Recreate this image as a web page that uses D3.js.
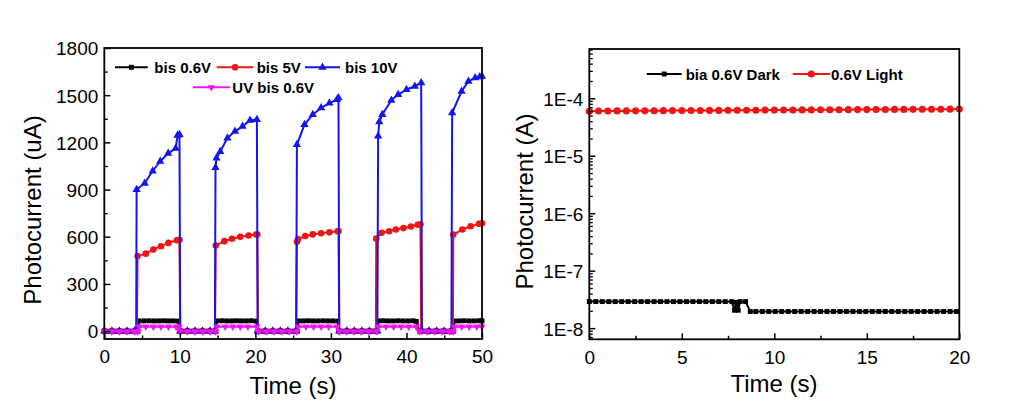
<!DOCTYPE html>
<html><head><meta charset="utf-8">
<script src="https://cdn.jsdelivr.net/npm/d3@7"></script>
<style>
body{margin:0;background:#fff}
svg{display:block}
text{font-family:"Liberation Sans",Arial,sans-serif;fill:#000}
</style>
</head><body>
<svg id="c" width="1034" height="409"></svg>
<script>
// ---------- Left panel: photocurrent (uA) vs time (s) ----------
const bis06Time = [0,0.66,1.32,1.98,2.64,3.3,3.96,4.45,
  4.6,5.25,5.9,6.55,7.2,7.85,8.5,9.15,9.8,
  10.0,10.65,11.3,11.95,12.6,13.25,13.9,14.7,
  14.9,15.55,16.2,16.85,17.5,18.15,18.8,19.45,20.1,
  20.4,21.05,21.7,22.35,23.0,23.65,24.3,24.95,25.55,
  25.7,26.35,27.0,27.65,28.3,28.95,29.6,30.25,30.9,
  31.1,31.75,32.4,33.05,33.7,34.35,35.0,35.65,36.15,
  36.3,36.95,37.6,38.25,38.9,39.55,40.2,40.85,41.3,
  41.75,42.4,43.05,43.7,44.35,45.0,45.65,46.2,
  46.35,47.0,47.65,48.3,48.95,49.6,50];
const bis06Val = [0,0,0,0,0,0,0,0,
  65,65,66,65,65,66,65,65,64,
  0,0,0,0,0,0,0,0,
  65,66,65,65,66,65,65,66,64,
  0,0,0,0,0,0,0,0,0,
  65,65,66,65,65,66,65,65,64,
  0,0,0,0,0,0,0,0,0,
  65,66,65,65,66,65,65,66,62,
  0,0,0,0,0,0,0,0,
  65,65,66,65,65,66,65];

const bis5Time = [0,1,2,3,4,4.32,
  4.4,5.5,6.5,7.5,8.5,9.6,9.95,
  10.05,11,12,13,14,14.65,
  14.75,15.9,16.9,18.0,19.1,20.1,20.25,
  20.35,21.3,22.3,23.3,24.3,25.4,
  25.5,25.65,26.6,27.6,28.7,29.8,30.9,31.0,
  31.1,32.1,33.1,34.1,35.1,35.95,
  36.0,36.7,37.7,38.6,39.6,40.6,41.5,41.85,
  41.95,42.9,43.9,44.9,45.9,46.15,
  46.2,47.4,48.5,49.6,50];
const bis5Val = [0,0,0,0,0,0,
  477,493,519,540,561,578,580,
  0,0,0,0,0,0,
  544,572,587,600,608,614,615,
  0,0,0,0,0,0,
  568,585,605,615,622,628,635,636,
  0,0,0,0,0,0,
  588,625,635,646,655,665,676,680,
  0,0,0,0,0,0,
  614,646,667,682,686];

const bis10Time = [0,1,2,3,4,4.22,
  4.28,5.35,6.4,7.4,8.45,9.45,9.7,9.95,
  10.05,11,12,13,14,14.65,
  14.72,14.85,15.35,16.3,17.3,18.3,19.3,20.2,
  20.3,21.3,22.3,23.3,24.3,25.4,
  25.5,26.5,27.6,28.7,29.8,30.8,31.0,
  31.1,32.1,33.1,34.1,35.1,36.15,
  36.25,36.4,36.8,38.0,38.9,40.0,41.1,41.95,
  42.05,43,44,45,45.95,
  46.05,47.3,48.2,49.1,49.7,50];
const bis10Val = [0,0,0,0,0,0,
  900,940,1018,1080,1130,1162,1245,1250,
  0,0,0,0,0,0,
  1040,1100,1142,1228,1270,1302,1340,1345,
  0,0,0,0,0,0,
  1186,1313,1377,1419,1450,1472,1483,
  0,0,0,0,0,0,
  1240,1330,1377,1468,1504,1536,1557,1578,
  0,0,0,0,0,
  1388,1525,1588,1610,1617,1620];

const uvTime = [0,1,2,3,4,4.45,
  4.6,5.5,6.5,7.5,8.5,9.5,9.9,
  10.05,11,12,13,14,14.75,
  14.9,16,17,18,19,20.2,
  20.4,21.5,22.5,23.5,24.5,25.5,
  25.7,26.7,27.7,28.7,29.7,30.8,
  31.1,32,33,34,35,36.1,
  36.3,37.3,38.3,39.3,40.3,41.3,
  41.7,42.7,43.7,44.7,45.7,46.2,
  46.35,47.3,48.3,49.3,50];
const uvVal = [-2,-2,-2,-2,-2,-2,
  28,28,28,28,28,28,28,
  -2,-2,-2,-2,-2,-2,
  28,28,28,28,28,28,
  -2,-2,-2,-2,-2,-2,
  28,28,28,28,28,28,
  -2,-2,-2,-2,-2,-2,
  28,28,28,28,28,28,
  -2,-2,-2,-2,-2,-2,
  28,28,28,28,28];

const leftXTicks = [0,10,20,30,40,50];
const leftXMinor = [5,15,25,35,45];
const leftYTicks = [0,300,600,900,1200,1500,1800];
const leftYMinor = [150,450,750,1050,1350,1650];
const leftNames = ["bis 0.6V","bis 5V","bis 10V","UV bis 0.6V"];

// ---------- Right panel: photocurrent (A) vs time (s), log scale ----------
const darkTime = [0,0.35,0.7,1.05,1.4,1.75,2.1,2.45,2.8,3.15,3.5,3.85,4.2,4.55,4.9,5.25,5.6,5.95,6.3,6.65,7.0,7.35,7.7,
  7.85,7.95,8.05,8.15,8.45,8.7,
  9.0,9.35,9.7,10.05,10.4,10.75,11.1,11.45,11.8,12.15,12.5,12.85,13.2,13.55,13.9,14.25,14.6,14.95,15.3,15.65,16.0,16.35,16.7,17.05,17.4,17.75,18.1,18.45,18.8,19.15,19.5,19.85];
const darkVal = [2.9e-8,2.9e-8,2.9e-8,2.9e-8,2.9e-8,2.9e-8,2.9e-8,2.9e-8,2.9e-8,2.9e-8,2.9e-8,2.9e-8,2.9e-8,2.9e-8,2.9e-8,2.9e-8,2.9e-8,2.9e-8,2.9e-8,2.9e-8,2.9e-8,2.9e-8,2.9e-8,
  2.05e-8,2.8e-8,2.05e-8,2.9e-8,2.9e-8,1.95e-8,
  1.95e-8,1.95e-8,1.95e-8,1.95e-8,1.95e-8,1.95e-8,1.95e-8,1.95e-8,1.95e-8,1.95e-8,1.95e-8,1.95e-8,1.95e-8,1.95e-8,1.95e-8,1.95e-8,1.95e-8,1.95e-8,1.95e-8,1.95e-8,1.95e-8,1.95e-8,1.95e-8,1.95e-8,1.95e-8,1.95e-8,1.95e-8,1.95e-8,1.95e-8,1.95e-8,1.95e-8,1.95e-8];
const lightTime = [0,0.5,1,1.5,2,2.5,3,3.5,4,4.5,5,5.5,6,6.5,7,7.5,8,8.5,9,9.5,10,10.5,11,11.5,12,12.5,13,13.5,14,14.5,15,15.5,16,16.5,17,17.5,18,18.5,19,19.5,20];
const lightVal = [5.95e-5,6.0e-5,6.0e-5,6.02e-5,6.03e-5,6.05e-5,6.05e-5,6.07e-5,6.08e-5,6.1e-5,6.1e-5,6.12e-5,6.13e-5,6.15e-5,6.15e-5,6.17e-5,6.18e-5,6.2e-5,6.2e-5,6.22e-5,6.23e-5,6.25e-5,6.25e-5,6.27e-5,6.28e-5,6.3e-5,6.3e-5,6.32e-5,6.33e-5,6.35e-5,6.35e-5,6.37e-5,6.38e-5,6.4e-5,6.4e-5,6.42e-5,6.43e-5,6.45e-5,6.45e-5,6.47e-5,6.48e-5];

const rightXTicks = [0,5,10,15,20];
const rightXMinor = [2.5,7.5,12.5,17.5];
const rightYTicks = [1e-8,1e-7,1e-6,1e-5,1e-4];
const rightNames = ["bia 0.6V Dark","0.6V Light"];

// ---------- drawing ----------
const svg = d3.select("#c");
const FONT = "\"Liberation Sans\",Arial,sans-serif";

function zip(t, v){ return t.map((d,i)=>({t:d, v:v[i]})); }

function symbolPath(type, size){
  return d3.symbol().type(type).size(size)();
}

function drawSeries(g, x, y, data, color, type, size, rot){
  const line = d3.line().x(d=>x(d.t)).y(d=>y(d.v));
  g.append("path").datum(data).attr("d", line)
    .attr("fill","none").attr("stroke",color).attr("stroke-width",2).attr("stroke-linejoin","round");
  const p = symbolPath(type,size);
  g.selectAll(null).data(data).enter().append("path")
    .attr("d", p)
    .attr("transform", d=>`translate(${x(d.t)},${y(d.v)})` + (rot?" rotate(180)":""))
    .attr("fill", color);
}

function drawFrame(x, y, xT, xM, yT, yM, yMinorVals, yFmt){
  const [x0,x1] = x.range(); const [y0,y1] = y.range();
  const g = svg.append("g");
  // bottom axis
  const ax = g.append("g").attr("transform",`translate(0,${y0})`)
    .call(d3.axisBottom(x).tickValues(xT).tickSize(-6).tickPadding(11).tickFormat(d3.format("d")));
  ax.select(".domain").remove();
  ax.selectAll("text").attr("font-size",19).attr("font-family",FONT).attr("fill","#000");
  ax.selectAll("line").attr("stroke","#000").attr("stroke-width",1.5);
  const axm = g.append("g").attr("transform",`translate(0,${y0})`)
    .call(d3.axisBottom(x).tickValues(xM).tickSize(-3.5).tickFormat(""));
  axm.select(".domain").remove();
  axm.selectAll("line").attr("stroke","#000").attr("stroke-width",1.5);
  // left axis
  const ay = g.append("g").attr("transform",`translate(${x0},0)`)
    .call(d3.axisLeft(y).tickValues(yT).tickSize(-6).tickPadding(6).tickFormat(yFmt));
  ay.select(".domain").remove();
  ay.selectAll("text").attr("font-size",19).attr("font-family",FONT).attr("fill","#000").attr("dy","0.36em");
  ay.selectAll("line").attr("stroke","#000").attr("stroke-width",1.5);
  const aym = g.append("g").attr("transform",`translate(${x0},0)`)
    .call(d3.axisLeft(y).tickValues(yMinorVals).tickSize(-3.5).tickFormat(""));
  aym.select(".domain").remove();
  aym.selectAll("line").attr("stroke","#000").attr("stroke-width",1.3);
  // frame
  g.append("rect").attr("x",x0).attr("y",y1).attr("width",x1-x0).attr("height",y0-y1)
    .attr("fill","none").attr("stroke","#000").attr("stroke-width",1.8);
}

function legendItem(xl, xr, yy, color, type, size, rot, label, tx){
  const g = svg.append("g");
  g.append("line").attr("x1",xl).attr("x2",xr).attr("y1",yy).attr("y2",yy)
    .attr("stroke",color).attr("stroke-width",2);
  g.append("path").attr("d",symbolPath(type,size))
    .attr("transform",`translate(${(xl+xr)/2},${yy})`+(rot?" rotate(180)":"")).attr("fill",color);
  g.append("text").attr("x",tx).attr("y",yy+5.5).attr("font-size",15).attr("font-weight","bold")
    .attr("font-family",FONT).text(label);
}

// Left panel
const xL = d3.scaleLinear().domain([0,50]).range([104.3,482]);
const yL = d3.scaleLinear().domain([-50,1800]).range([339,48]);
const gL = svg.append("g");
const COL_R = "#f01414", COL_B = "#1414f0", COL_M = "#f014f0";
drawSeries(gL, xL, yL, zip(bis06Time,bis06Val), "#000", d3.symbolSquare, 24, false);
drawSeries(gL, xL, yL, zip(bis5Time,bis5Val), COL_R, d3.symbolCircle, 34, false);
drawSeries(gL, xL, yL, zip(bis10Time,bis10Val), COL_B, d3.symbolTriangle, 30, false);
drawSeries(gL, xL, yL, zip(uvTime,uvVal), COL_M, d3.symbolTriangle, 24, true);
drawFrame(xL, yL, leftXTicks, leftXMinor, leftYTicks, leftYMinor, leftYMinor, d3.format("d"));

legendItem(115,147.7,67.3,"#000",d3.symbolSquare,24,false,leftNames[0],154.3);
legendItem(216.7,253.3,67.3,COL_R,d3.symbolCircle,34,false,leftNames[1],256.7);
legendItem(305,340,67.3,COL_B,d3.symbolTriangle,30,false,leftNames[2],345);
legendItem(192.7,230,87.3,COL_M,d3.symbolTriangle,24,true,leftNames[3],232.3);

svg.append("text").attr("transform","translate(41,210) rotate(-90)").attr("text-anchor","middle")
  .attr("font-size",24).attr("font-family",FONT).text("Photocurrent (uA)");
svg.append("text").attr("x",293).attr("y",394).attr("text-anchor","middle")
  .attr("font-size",24).attr("font-family",FONT).text("Time (s)");

// Right panel
const xR = d3.scaleLinear().domain([0,20]).range([589.3,959.3]);
const yR = d3.scaleLog().domain([6.4e-9,7.2e-4]).range([339.3,49]);
const gR = svg.append("g");
drawSeries(gR, xR, yR, zip(darkTime,darkVal), "#000", d3.symbolSquare, 24, false);
drawSeries(gR, xR, yR, zip(lightTime,lightVal), COL_R, d3.symbolCircle, 40, false);
const rMinor = [];
[1e-9,1e-8,1e-7,1e-6,1e-5,1e-4].forEach(dec=>{ for(let k=2;k<=9;k++){ const v=k*dec; if(v>=6.4e-9 && v<=7.2e-4) rMinor.push(v);} });
drawFrame(xR, yR, rightXTicks, rightXMinor, rightYTicks, [], rMinor, d=>"1E"+Math.round(Math.log10(d)));

legendItem(646.7,681.7,74,"#000",d3.symbolSquare,24,false,rightNames[0],685.7);
legendItem(792.7,830,74,COL_R,d3.symbolCircle,40,false,rightNames[1],831);

svg.append("text").attr("transform","translate(533,201.5) rotate(-90)").attr("text-anchor","middle")
  .attr("font-size",24).attr("font-family",FONT).text("Photocurrent (A)");
svg.append("text").attr("x",774).attr("y",392).attr("text-anchor","middle")
  .attr("font-size",24).attr("font-family",FONT).text("Time (s)");
</script>
</body></html>
